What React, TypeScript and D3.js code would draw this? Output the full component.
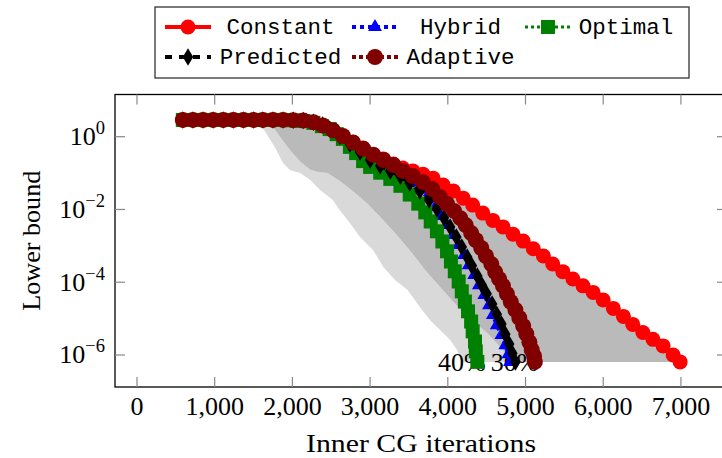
import * as d3 from "d3";

const W = 722;
const H = 458;
const LEFT = 115;
const RIGHT = 727;
const TOP = 94.5;
const BOTTOM = 387;

const SERIF = "'Liberation Serif', 'Times New Roman', serif";
const MONO = "'Liberation Mono', 'DejaVu Sans Mono', monospace";

// iterations (x) and log10 of the lower bound (y)
const constantIters = [590, 720, 850, 980, 1110, 1240, 1370, 1500, 1620, 1750, 1880, 2010, 2140, 2270, 2390, 2520, 2650, 2780, 2910, 3040, 3170, 3300, 3420, 3550, 3680, 3810, 3940, 4070, 4200, 4320, 4450, 4580, 4710, 4840, 4970, 5100, 5230, 5350, 5480, 5610, 5740, 5870, 6000, 6130, 6260, 6380, 6510, 6640, 6770, 6900, 6990];
const constantLog = [0.46, 0.46, 0.46, 0.46, 0.46, 0.46, 0.46, 0.46, 0.46, 0.46, 0.46, 0.455, 0.445, 0.4, 0.31, 0.18, 0.02, -0.15, -0.31, -0.48, -0.61, -0.75, -0.86, -0.94, -1.03, -1.14, -1.33, -1.49, -1.69, -1.88, -2.1, -2.3, -2.48, -2.68, -2.87, -3.08, -3.28, -3.5, -3.71, -3.91, -4.1, -4.28, -4.49, -4.72, -4.94, -5.16, -5.38, -5.57, -5.75, -6.0, -6.19];

const hybridIters = [590, 720, 850, 980, 1110, 1240, 1370, 1500, 1620, 1750, 1880, 2010, 2140, 2270, 2390, 2480, 2610, 2740, 2870, 3000, 3130, 3260, 3390, 3510, 3640, 3750, 3840, 3910, 3990, 4070, 4140, 4210, 4270, 4340, 4400, 4470, 4530, 4580, 4630, 4690, 4740, 4780, 4800];
const hybridLog = [0.46, 0.46, 0.46, 0.46, 0.46, 0.46, 0.46, 0.46, 0.46, 0.46, 0.46, 0.455, 0.445, 0.4, 0.32, 0.21, 0.02, -0.2, -0.42, -0.64, -0.8, -0.91, -1.05, -1.24, -1.46, -1.68, -1.93, -2.18, -2.43, -2.7, -2.98, -3.25, -3.53, -3.8, -4.08, -4.35, -4.63, -4.9, -5.18, -5.45, -5.73, -5.98, -6.19];

const optimalIters = [590, 720, 850, 980, 1110, 1240, 1370, 1500, 1620, 1750, 1880, 2010, 2140, 2270, 2380, 2480, 2570, 2650, 2740, 2820, 2910, 3000, 3130, 3260, 3390, 3510, 3620, 3710, 3780, 3860, 3930, 3990, 4040, 4090, 4140, 4180, 4220, 4260, 4300, 4320, 4350, 4360, 4380];
const optimalLog = [0.46, 0.46, 0.46, 0.46, 0.46, 0.46, 0.46, 0.46, 0.46, 0.46, 0.46, 0.45, 0.43, 0.38, 0.29, 0.21, 0.07, -0.06, -0.28, -0.45, -0.67, -0.83, -0.99, -1.16, -1.35, -1.59, -1.84, -2.08, -2.33, -2.6, -2.88, -3.15, -3.43, -3.7, -3.98, -4.25, -4.53, -4.8, -5.08, -5.35, -5.63, -5.9, -6.19];

const predictedIters = [590, 720, 850, 980, 1110, 1240, 1370, 1500, 1620, 1750, 1880, 2010, 2140, 2270, 2390, 2480, 2610, 2740, 2870, 3000, 3130, 3260, 3390, 3510, 3640, 3760, 3860, 3950, 4030, 4110, 4180, 4250, 4310, 4380, 4440, 4500, 4570, 4630, 4690, 4740, 4790, 4830, 4870];
const predictedLog = [0.46, 0.46, 0.46, 0.46, 0.46, 0.46, 0.46, 0.46, 0.46, 0.46, 0.46, 0.455, 0.445, 0.4, 0.32, 0.21, 0.02, -0.2, -0.42, -0.64, -0.8, -0.94, -1.08, -1.27, -1.49, -1.74, -1.99, -2.23, -2.48, -2.76, -3.03, -3.31, -3.55, -3.83, -4.08, -4.32, -4.6, -4.88, -5.15, -5.43, -5.7, -5.95, -6.19];

const adaptiveIters = [590, 720, 850, 980, 1110, 1240, 1370, 1500, 1620, 1750, 1880, 2010, 2140, 2270, 2390, 2520, 2650, 2780, 2910, 3040, 3170, 3300, 3420, 3550, 3680, 3800, 3900, 3990, 4080, 4160, 4230, 4300, 4360, 4430, 4490, 4560, 4610, 4660, 4710, 4760, 4810, 4870, 4920, 4970, 5010, 5050, 5080, 5110, 5120];
const adaptiveLog = [0.46, 0.46, 0.46, 0.46, 0.46, 0.46, 0.46, 0.46, 0.46, 0.46, 0.46, 0.455, 0.445, 0.4, 0.31, 0.18, 0.02, -0.16, -0.33, -0.5, -0.64, -0.78, -0.94, -1.08, -1.25, -1.44, -1.66, -1.85, -2.04, -2.24, -2.43, -2.65, -2.84, -3.06, -3.28, -3.5, -3.72, -3.91, -4.1, -4.32, -4.54, -4.76, -4.98, -5.2, -5.42, -5.65, -5.86, -6.03, -6.19];

// boundaries of the shaded bands (40% and 30%)
const band40Iters = [1520, 1620, 1780, 1880, 1970, 2100, 2230, 2360, 2520, 2610, 2740, 2870, 3040, 3170, 3320, 3480, 3640, 3770, 3900, 4030, 4120, 4180];
const band40Log = [0.46, 0.24, -0.31, -0.72, -0.92, -1.0, -1.19, -1.47, -1.74, -2.02, -2.37, -2.76, -3.12, -3.58, -3.94, -4.21, -4.68, -5.04, -5.31, -5.59, -5.86, -6.19];
const band30Iters = [1690, 1750, 1870, 1970, 2100, 2230, 2330, 2450, 2610, 2780, 2960, 3130, 3320, 3510, 3710, 3900, 4050, 4200, 4350, 4510, 4630, 4740, 4860];
const band30Log = [0.46, 0.27, -0.09, -0.37, -0.69, -0.91, -0.97, -1.0, -1.22, -1.5, -1.83, -2.21, -2.65, -3.12, -3.67, -4.13, -4.49, -4.85, -5.12, -5.4, -5.68, -5.95, -6.19];
const bandLabels = ["40%", "30%"];

const xTicks = [0, 1000, 2000, 3000, 4000, 5000, 6000, 7000];
const yTickExps = [0, -2, -4, -6];

type Pt = [number, number];
const zip = (xs: number[], ls: number[]): Pt[] => xs.map((x, i) => [x, Math.pow(10, ls[i])]);

const xScale = d3.scaleLinear().domain([-283, 7593]).range([LEFT, RIGHT]);
const yScale = d3.scaleLog().domain([Math.pow(10, -6.88), Math.pow(10, 1.16)]).range([BOTTOM, TOP]);

const line = d3
  .line<Pt>()
  .x((d) => xScale(d[0]))
  .y((d) => yScale(d[1]));

type Mark = "circle" | "triangle" | "square" | "diamond";

interface Series {
  name: string;
  color: string;
  dash?: string;
  width: number;
  mark: Mark;
  size: number;
  pts: Pt[];
}

const series: Series[] = [
  { name: "Constant", color: "#ff0000", width: 4, mark: "circle", size: 7.5, pts: zip(constantIters, constantLog) },
  { name: "Hybrid", color: "#0000ff", dash: "4 4", width: 4, mark: "triangle", size: 8, pts: zip(hybridIters, hybridLog) },
  { name: "Optimal", color: "#008000", dash: "3 3", width: 3, mark: "square", size: 7, pts: zip(optimalIters, optimalLog) },
  { name: "Predicted", color: "#000000", dash: "7 7", width: 4, mark: "diamond", size: 7, pts: zip(predictedIters, predictedLog) },
  { name: "Adaptive", color: "#800000", dash: "4 3", width: 4, mark: "circle", size: 8, pts: zip(adaptiveIters, adaptiveLog) },
];

function Marker({ mark, x, y, s, color }: { mark: Mark; x: number; y: number; s: number; color: string }) {
  if (mark === "circle") return <circle cx={x} cy={y} r={s} fill={color} />;
  if (mark === "square") return <rect x={x - s} y={y - s} width={2 * s} height={2 * s} fill={color} />;
  if (mark === "triangle") {
    const h = s * 0.5;
    const w = s * 0.866;
    return <path d={`M${x},${y - s}L${x + w},${y + h}L${x - w},${y + h}Z`} fill={color} />;
  }
  const dx = s * 0.75;
  const dy = s * 1.25;
  return <path d={`M${x},${y - dy}L${x + dx},${y}L${x},${y + dy}L${x - dx},${y}Z`} fill={color} />;
}

const legendCols = [
  { img: 188, txt: 280.5 },
  { img: 375, txt: 460.5 },
  { img: 548, txt: 626 },
];
const legendRows = [27, 57];

export default function App() {
  const p40 = zip(band40Iters, band40Log);
  const p30 = zip(band30Iters, band30Log);
  const constPts = series[0].pts;
  const lightPath = line([...p40, ...p30.slice().reverse()]) + "Z";
  const upper = constPts.filter((d) => d[0] >= p30[0][0]).reverse();
  const darkPath = line([...p30, ...upper]) + "Z";
  const bandEnds = [p40[p40.length - 1], p30[p30.length - 1]];

  return (
    <svg width={W} height={H} style={{ position: "absolute", left: 0, top: 0, background: "#fff" }}>
      <path d={lightPath} fill="#d9d9d9" />
      <path d={darkPath} fill="#bababa" />
      {bandEnds.map((d, i) => (
        <text key={i} x={xScale(d[0])} y={yScale(d[1]) + 9} textAnchor="middle" fontFamily={SERIF} fontSize={26}>
          {bandLabels[i]}
        </text>
      ))}
      {series.map((s) => (
        <g key={s.name}>
          <path d={line(s.pts) ?? ""} fill="none" stroke={s.color} strokeWidth={s.width} strokeDasharray={s.dash} />
          {s.pts.map((d, i) => (
            <Marker key={i} mark={s.mark} x={xScale(d[0])} y={yScale(d[1])} s={s.size} color={s.color} />
          ))}
        </g>
      ))}

      {/* axis frame */}
      <rect x={LEFT} y={TOP} width={RIGHT - LEFT} height={BOTTOM - TOP} fill="none" stroke="#000" strokeWidth={1.3} />
      {xTicks.map((t) => (
        <g key={t}>
          <line x1={xScale(t)} x2={xScale(t)} y1={BOTTOM} y2={BOTTOM - 10} stroke="#888" strokeWidth={1.2} />
          <line x1={xScale(t)} x2={xScale(t)} y1={TOP} y2={TOP + 10} stroke="#888" strokeWidth={1.2} />
          <text x={xScale(t)} y={415} textAnchor="middle" fontFamily={SERIF} fontSize={26}>
            {d3.format(",")(t)}
          </text>
        </g>
      ))}
      {yTickExps.map((e) => {
        const y = yScale(Math.pow(10, e));
        return (
          <g key={e}>
            <line x1={LEFT} x2={LEFT + 10} y1={y} y2={y} stroke="#888" strokeWidth={1.2} />
            <line x1={RIGHT} x2={RIGHT - 10} y1={y} y2={y} stroke="#888" strokeWidth={1.2} />
            <text x={105} y={y + 8.5} textAnchor="end" fontFamily={SERIF} fontSize={26}>
              10
              <tspan dy={-11} fontSize={18.5}>
                {e < 0 ? `\u2212${-e}` : `${e}`}
              </tspan>
            </text>
          </g>
        );
      })}
      <text
        x={(LEFT + RIGHT) / 2}
        y={452}
        textAnchor="middle"
        fontFamily={SERIF}
        fontSize={26}
        textLength={230}
        lengthAdjust="spacingAndGlyphs"
      >
        Inner CG iterations
      </text>
      <text
        transform={`translate(40,${(TOP + BOTTOM) / 2}) rotate(-90)`}
        textAnchor="middle"
        fontFamily={SERIF}
        fontSize={26}
        textLength={140}
        lengthAdjust="spacingAndGlyphs"
      >
        Lower bound
      </text>

      {/* legend */}
      <rect x={155} y={7} width={534} height={71} fill="#fff" stroke="#333" strokeWidth={1.3} />
      {series.map((s, i) => {
        const col = legendCols[i % 3];
        const cy = legendRows[Math.floor(i / 3)];
        return (
          <g key={s.name}>
            <line
              x1={col.img - 23}
              x2={col.img + 23}
              y1={cy}
              y2={cy}
              stroke={s.color}
              strokeWidth={s.width}
              strokeDasharray={s.dash}
            />
            <Marker mark={s.mark} x={col.img} y={cy} s={s.size} color={s.color} />
            <text x={col.txt} y={cy + 7} textAnchor="middle" fontFamily={MONO} fontSize={22.5}>
              {s.name}
            </text>
          </g>
        );
      })}
    </svg>
  );
}
